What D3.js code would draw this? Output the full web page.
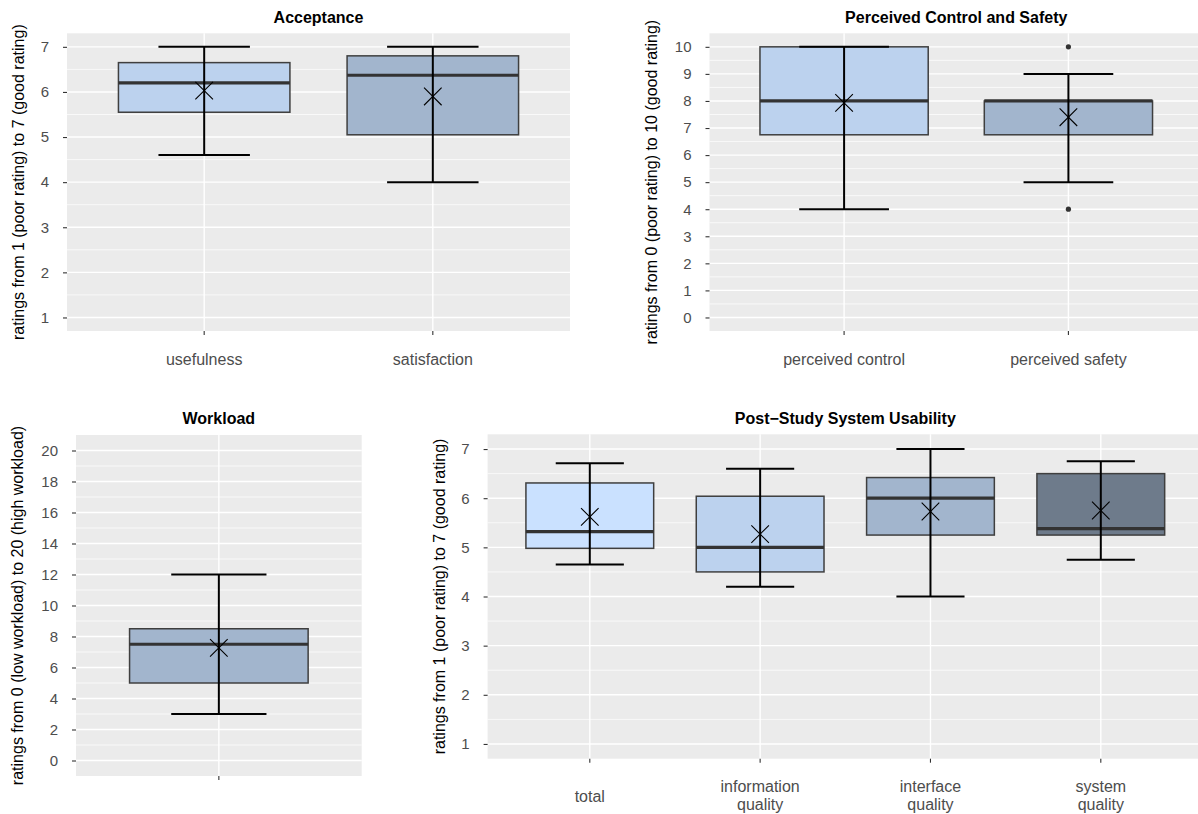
<!DOCTYPE html>
<html>
<head>
<meta charset="utf-8">
<script src="https://cdn.jsdelivr.net/npm/d3@7"></script>
<style>
  html, body { margin: 0; padding: 0; background: #ffffff; }
  svg { display: block; }
  text { font-family: "Liberation Sans", Arial, Helvetica, sans-serif; }
</style>
</head>
<body>
<svg id="chart" width="1198" height="814"></svg>
<script>
// ---------------- DATA ----------------
// Acceptance
const acceptanceCategories = ["usefulness", "satisfaction"];
const acceptanceLow    = [4.6, 4.0];
const acceptanceQ1     = [5.55, 5.05];
const acceptanceMedian = [6.2, 6.37];
const acceptanceQ3     = [6.65, 6.8];
const acceptanceHigh   = [7.0, 7.0];
const acceptanceMean   = [6.03, 5.9];
const acceptanceOutliers = [[], []];
const acceptanceTicks  = [1, 2, 3, 4, 5, 6, 7];

// Perceived Control and Safety
const controlCategories = ["perceived control", "perceived safety"];
const controlLow    = [4, 5];
const controlQ1     = [6.75, 6.75];
const controlMedian = [8, 8];
const controlQ3     = [10, 8];
const controlHigh   = [10, 9];
const controlMean   = [7.93, 7.4];
const controlOutliers = [[], [10, 4]];
const controlTicks  = [0, 1, 2, 3, 4, 5, 6, 7, 8, 9, 10];

// Workload
const workloadCategories = [""];
const workloadLow    = [3];
const workloadQ1     = [5];
const workloadMedian = [7.5];
const workloadQ3     = [8.5];
const workloadHigh   = [12];
const workloadMean   = [7.27];
const workloadOutliers = [[]];
const workloadTicks  = [0, 2, 4, 6, 8, 10, 12, 14, 16, 18, 20];

// Post-Study System Usability
const pssuqCategories = ["total", "information\nquality", "interface\nquality", "system\nquality"];
const pssuqLow    = [4.65, 4.2, 4.0, 4.75];
const pssuqQ1     = [4.98, 4.5, 5.25, 5.25];
const pssuqMedian = [5.32, 5.0, 6.0, 5.38];
const pssuqQ3     = [6.31, 6.04, 6.42, 6.5];
const pssuqHigh   = [6.71, 6.6, 7.0, 6.75];
const pssuqMean   = [5.62, 5.27, 5.73, 5.75];
const pssuqOutliers = [[], [], [], []];
const pssuqTicks  = [1, 2, 3, 4, 5, 6, 7];

// fills (R lightsteelblue1..4)
const fillLight1 = "#CAE1FF", fillLight2 = "#BCD2EE", fillLight3 = "#A2B5CD", fillLight4 = "#6E7B8B";

// ---------------- DRAWING ----------------
const svg = d3.select("#chart");

function drawPanel(cfg) {
  const g = svg.append("g");
  const { left, right, top, bottom } = cfg;
  const n = cfg.cats.length;

  const x = d3.scaleBand()
    .domain(d3.range(n))
    .range([left, right])
    .paddingInner(0.25)
    .paddingOuter(0.225);
  const step = x.step();
  const cx = i => x(i) + x.bandwidth() / 2;

  const tmin = d3.min(cfg.ticks), tmax = d3.max(cfg.ticks);
  const ext = (tmax - tmin) * 0.05;
  const y = d3.scaleLinear().domain([tmin - ext, tmax + ext]).range([bottom, top]);

  // panel background
  g.append("rect")
    .attr("x", left).attr("y", top)
    .attr("width", right - left).attr("height", bottom - top)
    .attr("fill", "#EBEBEB");

  // minor grid
  const tstep = cfg.ticks[1] - cfg.ticks[0];
  const minor = cfg.ticks.slice(0, -1).map(t => t + tstep / 2);
  g.selectAll(".minor").data(minor).enter().append("line")
    .attr("x1", left).attr("x2", right)
    .attr("y1", d => y(d)).attr("y2", d => y(d))
    .attr("stroke", "#ffffff").attr("stroke-width", 0.7);
  // major grid
  g.selectAll(".majory").data(cfg.ticks).enter().append("line")
    .attr("x1", left).attr("x2", right)
    .attr("y1", d => y(d)).attr("y2", d => y(d))
    .attr("stroke", "#ffffff").attr("stroke-width", 1.4);
  g.selectAll(".majorx").data(d3.range(n)).enter().append("line")
    .attr("x1", d => cx(d)).attr("x2", d => cx(d))
    .attr("y1", top).attr("y2", bottom)
    .attr("stroke", "#ffffff").attr("stroke-width", 1.4);

  // boxes
  const idx = d3.range(n);
  g.selectAll(".box").data(idx).enter().append("rect")
    .attr("x", d => x(d))
    .attr("width", x.bandwidth())
    .attr("y", d => y(cfg.q3[d]))
    .attr("height", d => y(cfg.q1[d]) - y(cfg.q3[d]))
    .attr("fill", d => cfg.colors[d])
    .attr("stroke", "#3f3f3f")
    .attr("stroke-width", 1.5);
  // medians
  g.selectAll(".med").data(idx).enter().append("line")
    .attr("x1", d => x(d)).attr("x2", d => x(d) + x.bandwidth())
    .attr("y1", d => y(cfg.median[d])).attr("y2", d => y(cfg.median[d]))
    .attr("stroke", "#333333").attr("stroke-width", 3.2);
  // outliers
  idx.forEach(i => {
    g.selectAll(null).data(cfg.outliers[i]).enter().append("circle")
      .attr("cx", cx(i)).attr("cy", d => y(d)).attr("r", 2.6)
      .attr("fill", "#333333");
  });
  // whiskers (error bars)
  const hw = step * 0.2;
  g.selectAll(".wv").data(idx).enter().append("line")
    .attr("x1", d => cx(d)).attr("x2", d => cx(d))
    .attr("y1", d => y(cfg.low[d])).attr("y2", d => y(cfg.high[d]))
    .attr("stroke", "#000000").attr("stroke-width", 2);
  ["low", "high"].forEach(k => {
    g.selectAll(null).data(idx).enter().append("line")
      .attr("x1", d => cx(d) - hw).attr("x2", d => cx(d) + hw)
      .attr("y1", d => y(cfg[k][d])).attr("y2", d => y(cfg[k][d]))
      .attr("stroke", "#000000").attr("stroke-width", 2);
  });
  // mean markers (X)
  const ms = 8.8;
  idx.forEach(i => {
    const px = cx(i), py = y(cfg.mean[i]);
    g.append("path")
      .attr("d", `M${px - ms},${py - ms}L${px + ms},${py + ms}M${px - ms},${py + ms}L${px + ms},${py - ms}`)
      .attr("stroke", "#000000").attr("stroke-width", 1.1).attr("fill", "none");
  });

  // y axis
  const yAxis = d3.axisLeft(y).tickValues(cfg.ticks).tickSize(4).tickPadding(14).tickFormat(d3.format("d"));
  const ya = g.append("g").attr("transform", `translate(${left},0)`).call(yAxis);
  ya.select(".domain").remove();
  ya.selectAll(".tick line").attr("stroke", "#333333").attr("stroke-width", 1.1);
  ya.selectAll(".tick text").attr("fill", "#4D4D4D").attr("font-size", cfg.tickFont + "px")
    .attr("font-family", '"Liberation Sans", Arial, sans-serif');

  // x axis ticks
  const xa = g.append("g");
  xa.selectAll("line").data(idx).enter().append("line")
    .attr("x1", d => cx(d)).attr("x2", d => cx(d))
    .attr("y1", bottom).attr("y2", bottom + 4)
    .attr("stroke", "#333333").attr("stroke-width", 1.1);
  idx.forEach(i => {
    const lines = cfg.cats[i].split("\n");
    if (lines.length === 1) {
      if (lines[0] === "") return;
      xa.append("text")
        .attr("text-anchor", "middle").attr("fill", "#4D4D4D").attr("font-size", "16px")
        .attr("x", cx(i)).attr("y", cfg.xlabSingle).text(lines[0]);
    } else {
      lines.forEach((l, j) => {
        xa.append("text")
          .attr("text-anchor", "middle").attr("fill", "#4D4D4D").attr("font-size", "16px")
          .attr("x", cx(i)).attr("y", cfg.xlabMulti[j]).text(l);
      });
    }
  });

  // title
  g.append("text")
    .attr("x", (left + right) / 2).attr("y", cfg.titleY)
    .attr("text-anchor", "middle")
    .attr("font-size", "16px").attr("font-weight", "bold").attr("fill", "#000000")
    .text(cfg.title);

  // y title
  g.append("text")
    .attr("transform", `translate(${cfg.ylabX},${(top + bottom) / 2}) rotate(-90)`)
    .attr("text-anchor", "middle")
    .attr("font-size", "16px").attr("fill", "#000000")
    .text(cfg.ylab);
}

drawPanel({
  left: 67, right: 570, top: 33.3, bottom: 331,
  cats: acceptanceCategories, low: acceptanceLow, q1: acceptanceQ1, median: acceptanceMedian,
  q3: acceptanceQ3, high: acceptanceHigh, mean: acceptanceMean, outliers: acceptanceOutliers,
  ticks: acceptanceTicks, colors: [fillLight2, fillLight3],
  title: "Acceptance", titleY: 23,
  ylab: "ratings from 1 (poor rating) to 7 (good rating)", ylabX: 24,
  xlabSingle: 365, tickFont: 15
});

drawPanel({
  left: 709.5, right: 1203, top: 33.3, bottom: 331,
  cats: controlCategories, low: controlLow, q1: controlQ1, median: controlMedian,
  q3: controlQ3, high: controlHigh, mean: controlMean, outliers: controlOutliers,
  ticks: controlTicks, colors: [fillLight2, fillLight3],
  title: "Perceived Control and Safety", titleY: 23,
  ylab: "ratings from 0 (poor rating) to 10 (good rating)", ylabX: 657,
  xlabSingle: 365, tickFont: 15
});

drawPanel({
  left: 76, right: 361.7, top: 435, bottom: 776,
  cats: workloadCategories, low: workloadLow, q1: workloadQ1, median: workloadMedian,
  q3: workloadQ3, high: workloadHigh, mean: workloadMean, outliers: workloadOutliers,
  ticks: workloadTicks, colors: [fillLight3],
  title: "Workload", titleY: 424,
  ylab: "ratings from 0 (low workload) to 20 (high workload)", ylabX: 23,
  xlabSingle: 800, tickFont: 15
});

drawPanel({
  left: 487.6, right: 1203, top: 434.3, bottom: 758.7,
  cats: pssuqCategories, low: pssuqLow, q1: pssuqQ1, median: pssuqMedian,
  q3: pssuqQ3, high: pssuqHigh, mean: pssuqMean, outliers: pssuqOutliers,
  ticks: pssuqTicks, colors: [fillLight1, fillLight2, fillLight3, fillLight4],
  title: "Post\u2212Study System Usability", titleY: 424,
  ylab: "ratings from 1 (poor rating) to 7 (good rating)", ylabX: 445,
  xlabSingle: 801.5, xlabMulti: [792, 810], tickFont: 15
});
</script>
</body>
</html>
